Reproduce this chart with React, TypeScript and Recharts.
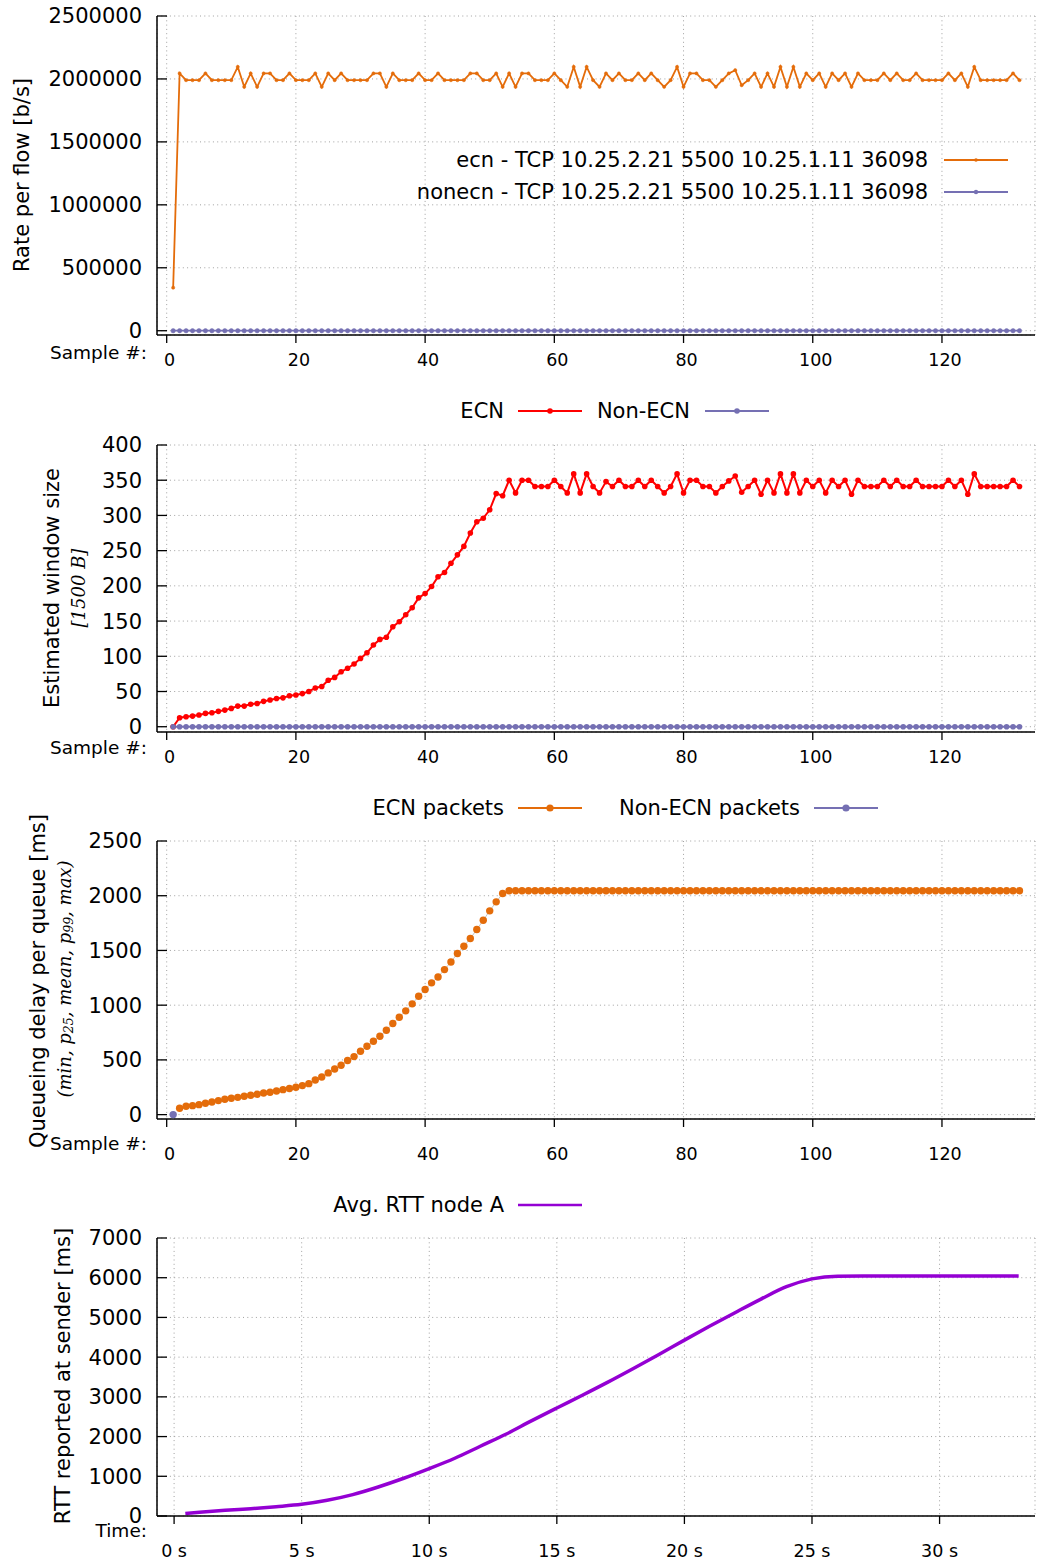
import { LineChart, Line, XAxis, YAxis, CartesianGrid } from 'recharts';

const FONT = 'DejaVu Sans';
const ORANGE = '#e46c0a';
const PURPLE = '#7570b3';
const RED = '#ff0000';
const VIOLET = '#9400d3';

// ticks
const sampleTicks = [0, 20, 40, 60, 80, 100, 120];
const rateTicks = [0, 500000, 1000000, 1500000, 2000000, 2500000];
const windowTicks = [0, 50, 100, 150, 200, 250, 300, 350, 400];
const delayTicks = [0, 500, 1000, 1500, 2000, 2500];
const rttTicks = [0, 1000, 2000, 3000, 4000, 5000, 6000, 7000];
const timeTicks = [0, 5, 10, 15, 20, 25, 30];

// panel 1: rate per flow [b/s], samples 1..132
const ecnRate = [
  342000, 2044000, 1990000, 1990000, 1990000, 2044000, 1990000, 1990000, 1990000, 1990000,
  2096000, 1937000, 2044000, 1937000, 2044000, 2044000, 1990000, 1990000, 2044000, 1990000,
  1990000, 1990000, 2044000, 1937000, 2044000, 1990000, 2044000, 1990000, 1990000, 1990000,
  1990000, 2044000, 2044000, 1937000, 2044000, 1990000, 1990000, 1990000, 2044000, 1990000,
  1990000, 2044000, 1990000, 1990000, 1990000, 1990000, 2044000, 2044000, 1990000, 1990000,
  2044000, 1937000, 2044000, 1937000, 2044000, 2044000, 1990000, 1990000, 1990000, 2044000,
  1990000, 1937000, 2096000, 1937000, 2096000, 1990000, 1937000, 2044000, 1990000, 2044000,
  1990000, 1990000, 2044000, 1990000, 2044000, 1990000, 1937000, 1990000, 2096000, 1937000,
  2044000, 2044000, 1990000, 1990000, 1937000, 1990000, 2044000, 2070000, 1950000, 1990000,
  2044000, 1937000, 2044000, 1937000, 2096000, 1937000, 2096000, 1937000, 2044000, 1990000,
  2044000, 1937000, 2044000, 1990000, 2044000, 1937000, 2044000, 1990000, 1990000, 1990000,
  2044000, 1990000, 2044000, 1990000, 1990000, 2044000, 1990000, 1990000, 1990000, 1990000,
  2044000, 1990000, 2044000, 1937000, 2096000, 1990000, 1990000, 1990000, 1990000, 1990000,
  2044000, 1990000,
];
const nonEcnRate = [
  0, 0, 0, 0, 0, 0, 0, 0, 0, 0, 0, 0, 0, 0, 0, 0, 0, 0, 0, 0, 0, 0, 0, 0, 0, 0, 0, 0, 0, 0, 0, 0, 0,
  0, 0, 0, 0, 0, 0, 0, 0, 0, 0, 0, 0, 0, 0, 0, 0, 0, 0, 0, 0, 0, 0, 0, 0, 0, 0, 0, 0, 0, 0, 0, 0, 0,
  0, 0, 0, 0, 0, 0, 0, 0, 0, 0, 0, 0, 0, 0, 0, 0, 0, 0, 0, 0, 0, 0, 0, 0, 0, 0, 0, 0, 0, 0, 0, 0, 0,
  0, 0, 0, 0, 0, 0, 0, 0, 0, 0, 0, 0, 0, 0, 0, 0, 0, 0, 0, 0, 0, 0, 0, 0, 0, 0, 0, 0, 0, 0, 0, 0, 0,
];

// panel 2: estimated window size [1500 B]
const ecnWindow = [
  0, 12.8, 14.2, 15.1, 16.6, 18.9, 19.9, 21.8, 23.6, 26,
  29.3, 29.3, 32, 33, 36, 38, 40, 41, 44, 45,
  47, 50, 55, 57, 66, 70, 78, 83, 89, 97,
  105, 116, 124, 127, 142, 149, 159, 169, 183, 189,
  199, 213, 219, 232, 244, 256, 275, 291, 296, 308,
  331, 328, 350, 332, 350, 350, 341, 341, 341, 350,
  341, 332, 359, 332, 359, 341, 332, 348, 341, 350,
  341, 341, 350, 341, 350, 341, 332, 341, 359, 332,
  350, 350, 341, 341, 332, 341, 349, 356, 333, 341,
  350, 330, 350, 332, 359, 332, 359, 332, 350, 341,
  350, 332, 350, 341, 350, 330, 350, 341, 341, 341,
  350, 341, 350, 341, 341, 350, 341, 341, 341, 341,
  350, 341, 350, 330, 359, 341, 341, 341, 341, 341,
  350, 341,
];
const nonEcnWindow = [
  0, 0, 0, 0, 0, 0, 0, 0, 0, 0, 0, 0, 0, 0, 0, 0, 0, 0, 0, 0, 0, 0, 0, 0, 0, 0, 0, 0, 0, 0, 0, 0, 0,
  0, 0, 0, 0, 0, 0, 0, 0, 0, 0, 0, 0, 0, 0, 0, 0, 0, 0, 0, 0, 0, 0, 0, 0, 0, 0, 0, 0, 0, 0, 0, 0, 0,
  0, 0, 0, 0, 0, 0, 0, 0, 0, 0, 0, 0, 0, 0, 0, 0, 0, 0, 0, 0, 0, 0, 0, 0, 0, 0, 0, 0, 0, 0, 0, 0, 0,
  0, 0, 0, 0, 0, 0, 0, 0, 0, 0, 0, 0, 0, 0, 0, 0, 0, 0, 0, 0, 0, 0, 0, 0, 0, 0, 0, 0, 0, 0, 0, 0, 0,
];

// panel 3: queueing delay [ms]
const ecnDelay = [
  null, 58, 76, 82, 91, 104, 116, 128, 140, 149,
  158, 168, 177, 186, 198, 204, 216, 228, 238, 250,
  265, 283, 317, 344, 381, 417, 451, 494, 530, 579,
  625, 670, 716, 771, 832, 890, 948, 1012, 1082, 1143,
  1204, 1258, 1325, 1395, 1472, 1539, 1609, 1691, 1776, 1862,
  1944, 2020, 2045, 2045, 2045, 2045, 2045, 2045, 2045, 2045,
  2045, 2045, 2045, 2045, 2045, 2045, 2045, 2045, 2045, 2045,
  2045, 2045, 2045, 2045, 2045, 2045, 2045, 2045, 2045, 2045,
  2045, 2045, 2045, 2045, 2045, 2045, 2045, 2045, 2045, 2045,
  2045, 2045, 2045, 2045, 2045, 2045, 2045, 2045, 2045, 2045,
  2045, 2045, 2045, 2045, 2045, 2045, 2045, 2045, 2045, 2045,
  2045, 2045, 2045, 2045, 2045, 2045, 2045, 2045, 2045, 2045,
  2045, 2045, 2045, 2045, 2045, 2045, 2045, 2045, 2045, 2045,
  2045, 2045,
];
const nonEcnDelaySamples = [1];
const nonEcnDelayValues = [0];

// panel 4: avg RTT node A [ms] over time [s]
const rttTime = [
  0.44, 1, 2, 3, 4, 5, 6, 7, 8, 9, 10, 11, 12, 13, 14, 15, 16, 17, 18, 19, 20,
  21, 22, 23, 24, 25, 26, 27, 28, 29, 30, 31, 32, 33.1,
];
const rttValue = [
  60, 92, 143, 185, 235, 294, 395, 538, 731, 950, 1193, 1454, 1756, 2059, 2395, 2720, 3040,
  3370, 3714, 4067, 4429, 4782, 5126, 5462, 5773, 5970, 6040, 6045, 6045, 6045, 6045, 6045,
  6045, 6045,
];

const rateData = ecnRate.map((v, i) => ({ sample: i + 1, ecn: v, nonecn: nonEcnRate[i] }));
const windowData = ecnWindow.map((v, i) => ({ sample: i + 1, ecn: v, nonecn: nonEcnWindow[i] }));
const delayData = ecnDelay.map((v, i) => {
  const k = nonEcnDelaySamples.indexOf(i + 1);
  return { sample: i + 1, ecn: v, nonecn: k >= 0 ? nonEcnDelayValues[k] : null };
});
const rttData = rttTime.map((t, i) => ({ t, rtt: rttValue[i] }));

const sampleDomain: [number, number] = [-1.5, 134.4];
const timeDomain: [number, number] = [-0.67, 33.74];

const axisLine = { stroke: '#000', strokeWidth: 1.5 };
const tickLine = { stroke: '#000', strokeWidth: 1.3 };
const yTick = { fontSize: 21, fill: '#000', fontFamily: FONT };
const xTick = { fontSize: 17.5, fill: '#000', fontFamily: FONT };
const sampleTick = { ...xTick, dx: 3 };
const margin = { top: 20, right: 5, bottom: 0, left: 97 };

function LegendKey({ x, y, color, dot, width = 2 }: { x: number; y: number; color: string; dot?: number; width?: number }) {
  return (
    <g>
      <line x1={x} x2={x + 64} y1={y} y2={y} stroke={color} strokeWidth={width} />
      {dot ? <circle cx={x + 32} cy={y} r={dot} fill={color} /> : null}
    </g>
  );
}

export default function App() {
  return (
    <div
      style={{
        position: 'absolute',
        left: 0,
        top: 0,
        width: 1040,
        height: 1565,
        background: '#fff',
        overflow: 'hidden',
        fontFamily: FONT,
      }}
    >
      {/* Rate per flow */}
      <div style={{ position: 'absolute', left: 0, top: 0 }}>
        <LineChart width={1040} height={375} data={rateData} margin={{ ...margin, top: 16 }}>
          <CartesianGrid stroke="#a0a0a0" strokeDasharray="1 3.3" />
          <XAxis type="number" dataKey="sample" domain={sampleDomain} ticks={sampleTicks} interval={0} allowDataOverflow
            height={40} tickSize={8} tickMargin={11} axisLine={axisLine} tickLine={tickLine} tick={sampleTick} />
          <XAxis xAxisId="top" orientation="top" type="number" domain={sampleDomain} ticks={sampleTicks} interval={0}
            allowDataOverflow height={0} tickSize={-10} tick={false} axisLine={axisLine} tickLine={tickLine} />
          <YAxis type="number" domain={[-34000, 2500000]} ticks={rateTicks} interval={0} allowDataOverflow width={60}
            tickSize={-10} tickMargin={25} axisLine={axisLine} tickLine={tickLine} tick={yTick} />
          <YAxis yAxisId="right" orientation="right" type="number" domain={[-34000, 2500000]} ticks={rateTicks}
            interval={0} allowDataOverflow width={0} tickSize={-10} tick={false} axisLine={axisLine} tickLine={tickLine} />
          <Line type="linear" dataKey="ecn" stroke={ORANGE} strokeWidth={1.8}
            dot={{ r: 1.6, fill: ORANGE, stroke: ORANGE, strokeWidth: 0.5 }} isAnimationActive={false} />
          <Line type="linear" dataKey="nonecn" stroke={PURPLE} strokeWidth={1.8}
            dot={{ r: 2.2, fill: PURPLE, stroke: PURPLE, strokeWidth: 0.5 }} isAnimationActive={false} />
        </LineChart>
      </div>

      {/* Estimated window size */}
      <div style={{ position: 'absolute', left: 0, top: 425 }}>
        <LineChart width={1040} height={347} data={windowData} margin={margin}>
          <CartesianGrid stroke="#a0a0a0" strokeDasharray="1 3.3" />
          <XAxis type="number" dataKey="sample" domain={sampleDomain} ticks={sampleTicks} interval={0} allowDataOverflow
            height={40} tickSize={8} tickMargin={11} axisLine={axisLine} tickLine={tickLine} tick={sampleTick} />
          <XAxis xAxisId="top" orientation="top" type="number" domain={sampleDomain} ticks={sampleTicks} interval={0}
            allowDataOverflow height={0} tickSize={-10} tick={false} axisLine={axisLine} tickLine={tickLine} />
          <YAxis type="number" domain={[-7.5, 400]} ticks={windowTicks} interval={0} allowDataOverflow width={60}
            tickSize={-10} tickMargin={25} axisLine={axisLine} tickLine={tickLine} tick={yTick} />
          <YAxis yAxisId="right" orientation="right" type="number" domain={[-7.5, 400]} ticks={windowTicks}
            interval={0} allowDataOverflow width={0} tickSize={-10} tick={false} axisLine={axisLine} tickLine={tickLine} />
          <Line type="linear" dataKey="ecn" stroke={RED} strokeWidth={2}
            dot={{ r: 2.8, fill: RED, stroke: RED, strokeWidth: 0 }} isAnimationActive={false} />
          <Line type="linear" dataKey="nonecn" stroke={PURPLE} strokeWidth={2}
            dot={{ r: 2.8, fill: PURPLE, stroke: PURPLE, strokeWidth: 0 }} isAnimationActive={false} />
        </LineChart>
      </div>

      {/* Queueing delay */}
      <div style={{ position: 'absolute', left: 0, top: 821 }}>
        <LineChart width={1040} height={348} data={delayData} margin={margin}>
          <CartesianGrid stroke="#a0a0a0" strokeDasharray="1 3.3" />
          <XAxis type="number" dataKey="sample" domain={sampleDomain} ticks={sampleTicks} interval={0} allowDataOverflow
            height={50} tickSize={8} tickMargin={21} axisLine={axisLine} tickLine={tickLine} tick={sampleTick} />
          <XAxis xAxisId="top" orientation="top" type="number" domain={sampleDomain} ticks={sampleTicks} interval={0}
            allowDataOverflow height={0} tickSize={-10} tick={false} axisLine={axisLine} tickLine={tickLine} />
          <YAxis type="number" domain={[-40, 2500]} ticks={delayTicks} interval={0} allowDataOverflow width={60}
            tickSize={-10} tickMargin={25} axisLine={axisLine} tickLine={tickLine} tick={yTick} />
          <YAxis yAxisId="right" orientation="right" type="number" domain={[-40, 2500]} ticks={delayTicks}
            interval={0} allowDataOverflow width={0} tickSize={-10} tick={false} axisLine={axisLine} tickLine={tickLine} />
          <Line type="linear" dataKey="ecn" stroke="#c4c4c4" strokeWidth={1}
            dot={{ r: 3.7, fill: ORANGE, stroke: ORANGE, strokeWidth: 0 }} isAnimationActive={false} />
          <Line type="linear" dataKey="nonecn" stroke={PURPLE} strokeWidth={1}
            dot={{ r: 3.7, fill: PURPLE, stroke: PURPLE, strokeWidth: 0 }} isAnimationActive={false} />
        </LineChart>
      </div>

      {/* RTT at sender */}
      <div style={{ position: 'absolute', left: 0, top: 1218 }}>
        <LineChart width={1040} height={343} data={rttData} margin={margin}>
          <CartesianGrid stroke="#a0a0a0" strokeDasharray="1 3.3" />
          <XAxis type="number" dataKey="t" domain={timeDomain} ticks={timeTicks} interval={0} allowDataOverflow
            height={45} tickSize={8} tickMargin={21} axisLine={axisLine} tickLine={tickLine} tick={xTick}
            tickFormatter={(v: number) => `${v} s`} />
          <XAxis xAxisId="top" orientation="top" type="number" domain={timeDomain} ticks={timeTicks} interval={0}
            allowDataOverflow height={0} tickSize={-10} tick={false} axisLine={axisLine} tickLine={tickLine} />
          <YAxis type="number" domain={[0, 7000]} ticks={rttTicks} interval={0} allowDataOverflow width={60}
            tickSize={-10} tickMargin={25} axisLine={axisLine} tickLine={tickLine} tick={yTick} />
          <YAxis yAxisId="right" orientation="right" type="number" domain={[0, 7000]} ticks={rttTicks}
            interval={0} allowDataOverflow width={0} tickSize={-10} tick={false} axisLine={axisLine} tickLine={tickLine} />
          <Line type="monotone" dataKey="rtt" stroke={VIOLET} strokeWidth={3.5} dot={false} isAnimationActive={false} />
        </LineChart>
      </div>

      {/* titles, legends and axis captions */}
      <svg width={1040} height={1565} style={{ position: 'absolute', left: 0, top: 0, pointerEvents: 'none' }}
        fontFamily={FONT} fill="#000">
        <text transform="translate(22,175) rotate(-90)" textAnchor="middle" dominantBaseline="central" fontSize={21}>
          Rate per flow [b/s]
        </text>
        <text transform="translate(52,588) rotate(-90)" textAnchor="middle" dominantBaseline="central" fontSize={21}>
          Estimated window size
        </text>
        <text transform="translate(78,588) rotate(-90)" textAnchor="middle" dominantBaseline="central" fontSize={18}
          fontFamily="DejaVu Serif" fontStyle="italic">
          [1500 B]
        </text>
        <text transform="translate(38,981) rotate(-90)" textAnchor="middle" dominantBaseline="central" fontSize={21}>
          Queueing delay per queue [ms]
        </text>
        <text transform="translate(64,979) rotate(-90)" textAnchor="middle" dominantBaseline="central" fontSize={18}
          fontFamily="DejaVu Serif" fontStyle="italic">
          (min, p<tspan fontSize={12.5} dy={4}>25</tspan><tspan dy={-4}>, mean, p</tspan>
          <tspan fontSize={12.5} dy={4}>99</tspan><tspan dy={-4}>, max)</tspan>
        </text>
        <text transform="translate(63,1376) rotate(-90)" textAnchor="middle" dominantBaseline="central" fontSize={21}>
          RTT reported at sender [ms]
        </text>

        <text x={147} y={352} textAnchor="end" dominantBaseline="central" fontSize={18.5}>Sample #:</text>
        <text x={147} y={747} textAnchor="end" dominantBaseline="central" fontSize={18.5}>Sample #:</text>
        <text x={147} y={1143} textAnchor="end" dominantBaseline="central" fontSize={18.5}>Sample #:</text>
        <text x={147} y={1530} textAnchor="end" dominantBaseline="central" fontSize={18.5}>Time:</text>

        {/* legend of the rate panel */}
        <text x={928} y={160} textAnchor="end" dominantBaseline="central" fontSize={21}>
          ecn - TCP 10.25.2.21 5500 10.25.1.11 36098
        </text>
        <LegendKey x={944} y={160} color={ORANGE} dot={1.8} />
        <text x={928} y={192} textAnchor="end" dominantBaseline="central" fontSize={21}>
          nonecn - TCP 10.25.2.21 5500 10.25.1.11 36098
        </text>
        <LegendKey x={944} y={192} color={PURPLE} dot={2.2} />

        {/* legend of the window panel */}
        <text x={504} y={411} textAnchor="end" dominantBaseline="central" fontSize={21}>ECN</text>
        <LegendKey x={518} y={411} color={RED} dot={2.8} />
        <text x={690} y={411} textAnchor="end" dominantBaseline="central" fontSize={21}>Non-ECN</text>
        <LegendKey x={705} y={411} color={PURPLE} dot={2.8} />

        {/* legend of the delay panel */}
        <text x={504} y={808} textAnchor="end" dominantBaseline="central" fontSize={21}>ECN packets</text>
        <LegendKey x={518} y={808} color={ORANGE} dot={3.6} />
        <text x={800} y={808} textAnchor="end" dominantBaseline="central" fontSize={21}>Non-ECN packets</text>
        <LegendKey x={814} y={808} color={PURPLE} dot={3.6} />

        {/* legend of the RTT panel */}
        <text x={504} y={1205} textAnchor="end" dominantBaseline="central" fontSize={21}>Avg. RTT node A</text>
        <LegendKey x={518} y={1205} color={VIOLET} width={2.5} />
      </svg>
    </div>
  );
}
